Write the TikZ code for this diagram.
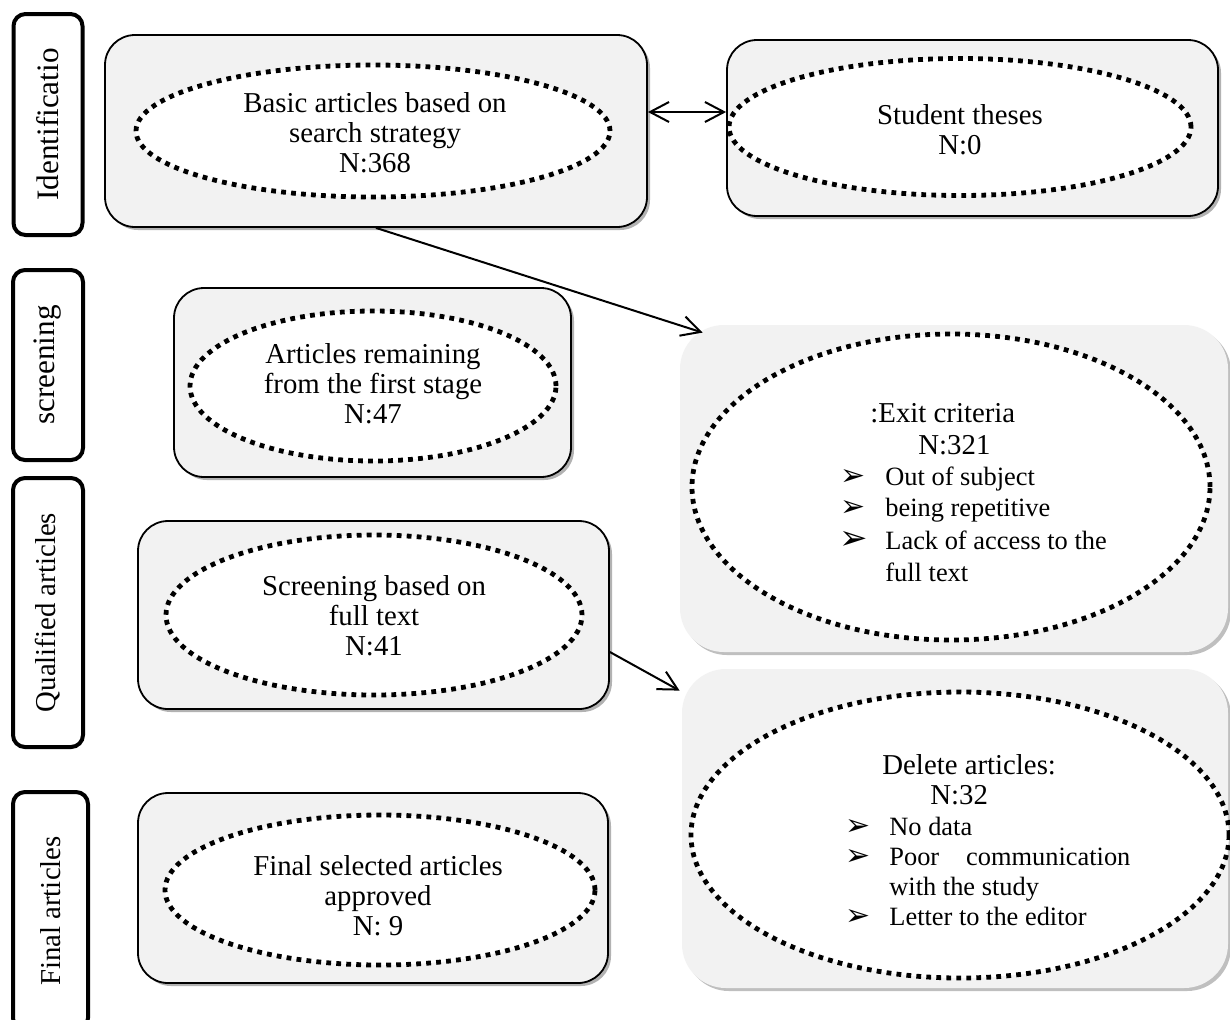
\documentclass[tikz,border=0pt]{standalone}
\usepackage{fontspec}
\setmainfont{Liberation Serif}
\newfontfamily\dejavu{DejaVu Sans}
\usetikzlibrary{shapes.geometric,shadows,arrows.meta}
\definecolor{boxgray}{HTML}{F2F2F2}
\begin{document}
\begin{tikzpicture}[x=0.5pt,y=-0.5pt,
  font=\fontsize{14.4}{15}\selectfont,
  lab/.style={draw, line width=2pt, rounded corners=6pt, fill=white, rotate=90, inner sep=0pt},
  labbig/.style={lab, font=\fontsize{15.6}{16}\selectfont},
  box/.style={draw, line width=0.9pt, rounded corners=15pt, fill=boxgray,
    drop shadow={shadow xshift=1.5pt, shadow yshift=-1.5pt, opacity=0.3, fill=black}},
  softbox/.style={rounded corners=22pt, fill=boxgray,
    drop shadow={shadow xshift=1.5pt, shadow yshift=-1.5pt, opacity=0.25, fill=black}},
  ell/.style={ellipse, draw, fill=white, line width=2.4pt, dash pattern=on 2.4pt off 2.6pt, inner sep=0pt},
  txt/.style={align=center, inner sep=0pt},
  ln/.style={anchor=base west, inner sep=0pt},
  lnsm/.style={anchor=base west, inner sep=0pt, font=\fontsize{13.2}{14}\selectfont},
  bul/.style={anchor=base west, inner sep=0pt, font=\dejavu\fontsize{15}{16}\selectfont},
  bulbig/.style={anchor=base west, inner sep=0pt, font=\dejavu\fontsize{17}{18}\selectfont},
  arr/.style={line width=1pt, -{Straight Barb[length=9.5pt,width=10pt]}},
  darr/.style={line width=1pt, {Straight Barb[length=9.5pt,width=10pt]}-{Straight Barb[length=9.5pt,width=10pt]}}
]
\useasboundingbox (0,0) rectangle (1230,1019);
\fill[white] (0,0) rectangle (1230,1019);

% stage labels
\node[labbig, minimum width=110.5pt, minimum height=34.5pt] (l1) at (48,124.5) {Identificatio};
\node[labbig, minimum width=95pt, minimum height=35pt] (l2) at (48,365) {screening};
\node[lab, minimum width=134.5pt, minimum height=35pt] (l3) at (48,612.5) {Qualified articles};
\node[lab, minimum width=119pt, minimum height=37.5pt] (l4) at (50.5,911) {Final articles};

% boxes
\node[box, minimum width=271pt, minimum height=96pt] (b1) at (376,131) {};
\node[box, minimum width=245.5pt, minimum height=88pt] (b2) at (972.5,128) {};
\node[box, minimum width=198.5pt, minimum height=94.5pt] (b3) at (372.5,382.5) {};
\node[softbox, minimum width=274pt, minimum height=163.5pt] (b4) at (954,488.5) {};
\node[box, minimum width=235.5pt, minimum height=94pt] (b5) at (373.5,615) {};
\node[softbox, minimum width=273pt, minimum height=159.5pt] (b6) at (955,828.5) {};
\node[box, minimum width=235pt, minimum height=95pt] (b7) at (373,888) {};

% ellipses
\node[ell, minimum width=237pt, minimum height=66pt] (e1) at (373,131) {};
\node[ell, minimum width=231pt, minimum height=68.5pt] (e2) at (960,127) {};
\node[ell, minimum width=183pt, minimum height=75pt] (e3) at (373,386) {};
\node[ell, minimum width=259pt, minimum height=153pt] (e4) at (951,487) {};
\node[ell, minimum width=208pt, minimum height=80pt] (e5) at (374,615) {};
\node[ell, minimum width=269pt, minimum height=143pt] (e6) at (960,835) {};
\node[ell, minimum width=215pt, minimum height=75pt] (e7) at (380,890) {};

% texts
\node[txt] (t1) at (375,133) {Basic articles based on\\search strategy\\N:368};
\node[txt] (t2) at (960,130) {Student theses\\N:0};
\node[txt] (t3) at (373,384) {Articles remaining\\from the first stage\\N:47};
\node[txt] (t5) at (374,616) {Screening based on\\full text\\N:41};
\node[txt] (t7) at (378,896) {Final selected articles\\approved\\N: 9};

% exit criteria list
\node[ln] (x1) at (870,422) {:Exit criteria};
\node[ln] (x2) at (918,454) {N:321};
\node[bul] (xb1) at (840,485) {➢};
\node[lnsm] (x3) at (885,485) {Out of subject};
\node[bul] (xb2) at (840,516) {➢};
\node[lnsm] (x4) at (885,516) {being repetitive};
\node[bulbig] (xb3) at (839,549) {➢};
\node[lnsm] (x5) at (885,549) {Lack of access to the};
\node[lnsm] (x6) at (885,581) {full text};

% delete articles list
\node[ln] (d1) at (882,774) {Delete articles:};
\node[ln] (d2) at (930,804) {N:32};
\node[bul] (db1) at (845,835) {➢};
\node[lnsm] (d3) at (889,835) {No data};
\node[bul] (db2) at (845,865) {➢};
\node[lnsm] (d4) at (889,865) {\makebox[120.5pt][s]{Poor\hfill communication}};
\node[lnsm] (d5) at (889,895) {with the study};
\node[bul] (db3) at (845,925) {➢};
\node[lnsm] (d6) at (889,925) {Letter to the editor};

% connectors
\draw[darr] ([shift={(0,-19)}]b1.east) -- ([shift={(0,-16)}]b2.west);
\draw[arr] (b1.south) -- ([shift={(23,8)}]b4.north west);
\draw[arr] ([shift={(0,37)}]b5.east) -- ([shift={(-2,22)}]b6.north west);
\end{tikzpicture}
\end{document}
